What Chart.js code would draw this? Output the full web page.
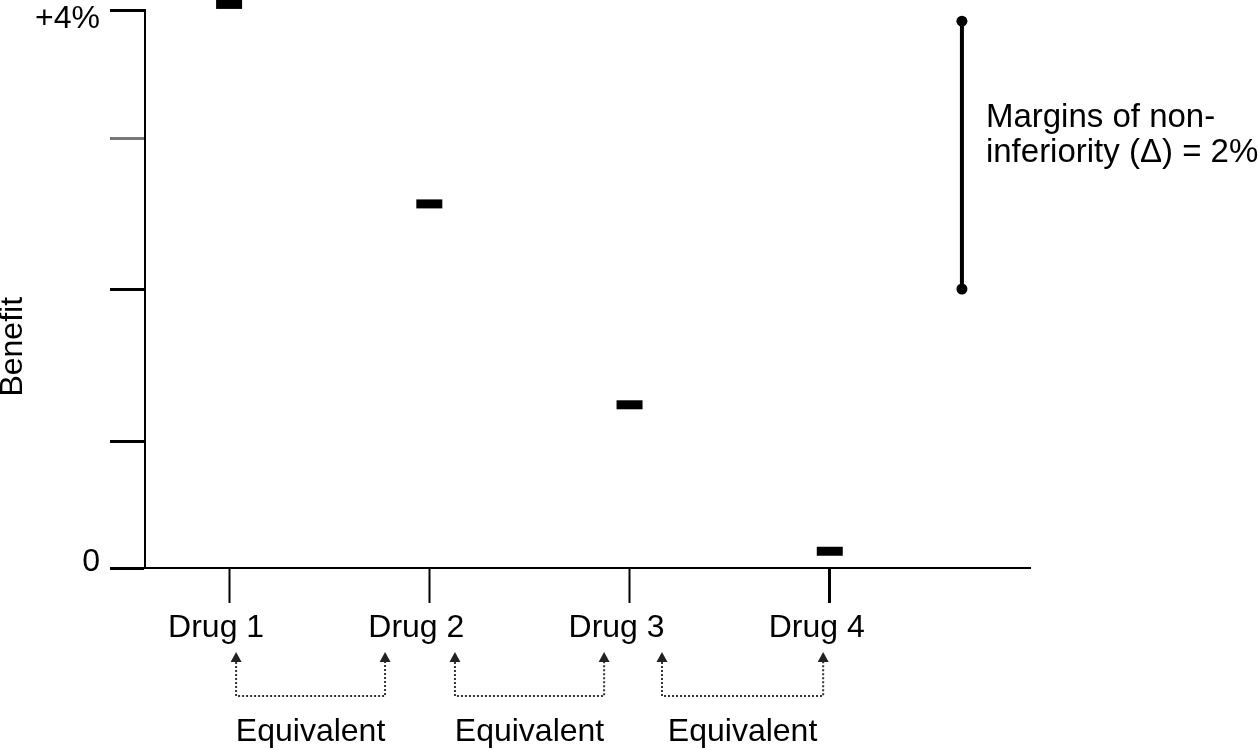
<!DOCTYPE html>
<html>
<head>
<meta charset="utf-8">
<script src="https://cdn.jsdelivr.net/npm/chart.js@4/dist/chart.umd.min.js"></script>
<style>
  html, body { margin: 0; padding: 0; background: #fff; }
  canvas { display: block; }
</style>
</head>
<body>
<canvas id="chart-equiv" width="1258" height="750"></canvas>
<script>
// drugs on a linear x axis, benefit in %
const drugLabels = ["Drug 1", "Drug 2", "Drug 3", "Drug 4"];
const drugPositions = [1, 2, 3, 4];
const drugBenefit = [4.04, 2.61, 1.17, 0.12];

// y ticks as drawn (only the ends are labelled)
const yTickValues = [0, 0.91, 2.0, 3.08, 4];

// non-inferiority margin bar
const marginX = 4.66;
const marginRange = [2.0, 3.92];
const marginText = ["Margins of non-", "inferiority (\u0394) = 2%"];

// "Equivalent" brackets between neighbouring drugs (x values)
const bracketSpans = [
  [1.035, 1.779],
  [2.128, 2.873],
  [3.162, 3.967],
];
const bracketLabel = "Equivalent";

const FONT = "'Liberation Sans', Arial, Helvetica, sans-serif";
Chart.defaults.font.family = FONT;
Chart.defaults.color = "#000";

const annotations = {
  id: "annotations",
  afterDraw(chart) {
    const { ctx, scales } = chart;
    const x = scales.x;
    const y = scales.y;
    const base = chart.chartArea.bottom;
    ctx.save();

    // brackets with arrowheads below the axis
    bracketSpans.forEach(([a, b]) => {
      const xa = x.getPixelForValue(a);
      const xb = x.getPixelForValue(b);
      const tip = base + 84;
      const head = base + 94;
      const low = base + 128;
      ctx.strokeStyle = "#333";
      ctx.lineWidth = 2;
      ctx.setLineDash([2, 2]);
      ctx.beginPath();
      ctx.moveTo(xa, head);
      ctx.lineTo(xa, low);
      ctx.lineTo(xb, low);
      ctx.lineTo(xb, head);
      ctx.stroke();
      ctx.setLineDash([]);
      ctx.fillStyle = "#222";
      [xa, xb].forEach((px) => {
        ctx.beginPath();
        ctx.moveTo(px, tip);
        ctx.lineTo(px + 5.5, head);
        ctx.lineTo(px - 5.5, head);
        ctx.closePath();
        ctx.fill();
      });
      ctx.fillStyle = "#000";
      ctx.font = "32px " + FONT;
      ctx.textAlign = "center";
      ctx.textBaseline = "alphabetic";
      ctx.fillText(bracketLabel, (xa + xb) / 2, base + 173);
    });

    // text next to the margin bar
    const mx = x.getPixelForValue(marginX) + 24;
    const my = y.getPixelForValue(marginRange[1]);
    ctx.font = "33px " + FONT;
    ctx.textAlign = "left";
    ctx.fillStyle = "#000";
    marginText.forEach((line, i) => {
      ctx.fillText(line, mx, my + 106 + i * 35);
    });
    ctx.restore();
  },
};

new Chart(document.getElementById("chart-equiv"), {
  type: "scatter",
  data: {
    datasets: [
      {
        label: "Benefit",
        data: drugPositions.map((p, i) => ({ x: p, y: drugBenefit[i] })),
        pointStyle: "line",
        pointRadius: 13,
        pointBorderWidth: 9,
        borderColor: "#000",
        backgroundColor: "#000",
        clip: false,
      },
      {
        type: "line",
        label: "Margin",
        data: marginRange.map((v) => ({ x: marginX, y: v })),
        borderColor: "#000",
        backgroundColor: "#000",
        borderWidth: 4,
        pointRadius: 5.5,
        pointBorderWidth: 0,
        clip: false,
      },
    ],
  },
  options: {
    responsive: false,
    animation: false,
    events: [],
    layout: {
      autoPadding: false,
      padding: { left: 0, top: 10, right: 228, bottom: 0 },
    },
    plugins: {
      legend: { display: false },
      tooltip: { enabled: false },
    },
    scales: {
      x: {
        type: "linear",
        min: 0.58,
        max: 5.0,
        afterBuildTicks: (scale) => {
          scale.ticks = drugPositions.map((v) => ({ value: v }));
        },
        afterFit: (scale) => {
          scale.height = 182;
          scale.paddingLeft = 0;
          scale.paddingRight = 0;
        },
        border: { display: true, color: "#000", width: 2 },
        grid: {
          drawOnChartArea: false,
          tickLength: 35,
          tickWidth: (c) => (c.index === 3 ? 3 : 2),
          tickColor: "#000",
        },
        ticks: {
          padding: 6,
          labelOffset: -13,
          maxRotation: 0,
          font: { size: 32 },
          color: "#000",
          callback: (v) => {
            const i = drugPositions.indexOf(v);
            return i >= 0 ? drugLabels[i] : "";
          },
        },
      },
      y: {
        min: 0,
        max: 4,
        afterBuildTicks: (scale) => {
          scale.ticks = yTickValues.map((v) => ({ value: v }));
        },
        afterFit: (scale) => {
          scale.width = 145;
          scale.paddingTop = 0;
          scale.paddingBottom = 0;
        },
        border: { display: true, color: "#000", width: 2 },
        grid: {
          drawOnChartArea: false,
          tickLength: 35,
          tickWidth: 3,
          tickColor: (c) => (c.tick && c.tick.value === 3.08 ? "#777" : "#000"),
        },
        ticks: {
          padding: 10,
          color: "#000",
          font: (c) => ({
            size: 32,
            lineHeight: c.tick && c.tick.value === 4 ? "18px" : "11px",
          }),
          callback: (v) => {
            if (v === 4) return ["", "+4%"];
            if (v === 0) return ["0", ""];
            return "";
          },
        },
        title: {
          display: true,
          text: "Benefit" + "\u00a0".repeat(13),
          color: "#000",
          font: { size: 32, lineHeight: "26px" },
          padding: 0,
        },
      },
    },
  },
  plugins: [annotations],
});
</script>
</body>
</html>
